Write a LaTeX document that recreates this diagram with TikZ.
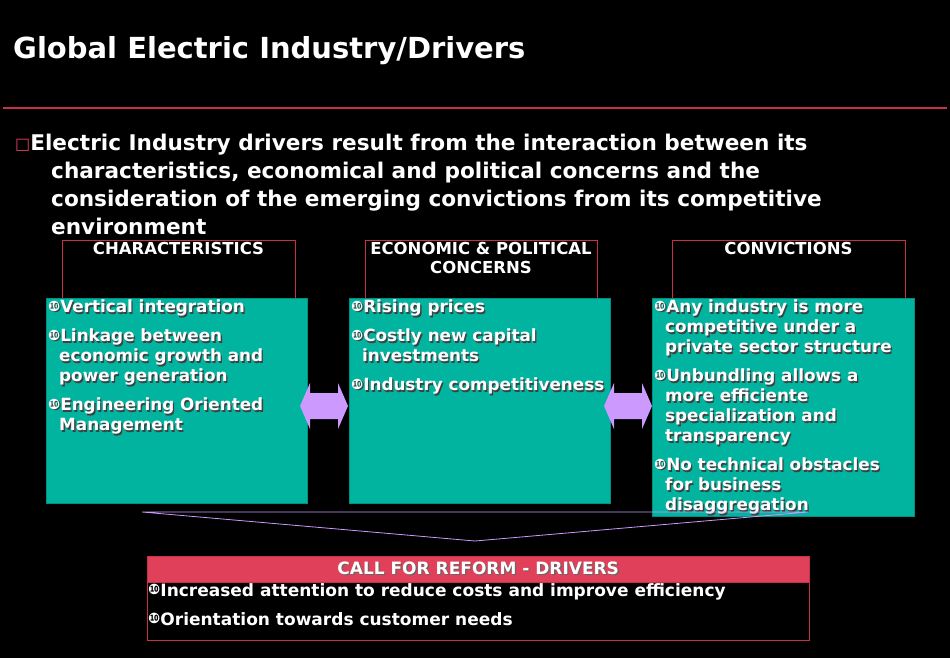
\documentclass[tikz,border=0pt]{standalone}
\usepackage{fontspec}
\setmainfont{DejaVu Sans}
\usetikzlibrary{calc}
\definecolor{teal}{HTML}{00B4A0}
\definecolor{crim}{HTML}{C8304A}
\definecolor{band}{HTML}{E0405A}
\definecolor{lav}{HTML}{CC99FF}
\newcommand{\bl}{\raisebox{0.08em}{\scalebox{0.85}{❿}}}
\newcommand{\ind}{\hspace*{11pt}}
\begin{document}
\begin{tikzpicture}[x=1pt,y=-1pt,
  every node/.style={font=\bfseries, text=white},
  tbox/.style={fill=teal, draw=teal!80!black},
  hbox/.style={draw=crim, line width=0.8pt},
  body/.style={anchor=north west, inner sep=0pt, align=left, font=\bfseries\fontsize{16.8}{20}\selectfont},
  hd/.style={anchor=north, inner sep=0pt, align=center, font=\bfseries\fontsize{16.5}{19}\selectfont}]
\fill[black] (0,0) rectangle (950,658);
\useasboundingbox (0,0) rectangle (950,658);
\node[anchor=west, inner sep=0pt, font=\bfseries\fontsize{29}{34}\selectfont] (title) at (13,51) {Global Electric Industry/Drivers};
\draw[crim, line width=1.2pt] (3,108) -- (947,108);
\node[anchor=north west, inner sep=0pt, align=left, font=\bfseries\fontsize{21.6}{28}\selectfont] (intro) at (15,134)
 {{\color{band}\fontsize{16}{16}\selectfont\raisebox{0.1em}{□}}Electric Industry drivers result from the interaction between its\\
 \hspace*{36pt}characteristics, economical and political concerns and the\\
 \hspace*{36pt}consideration of the emerging convictions from its competitive\\
 \hspace*{36pt}environment};
% header boxes
\draw[hbox] (62,240) rectangle (295,300);
\draw[hbox] (365,240) rectangle (597,300);
\draw[hbox] (672,240) rectangle (905,300);
\node[hd] (h1) at (178.5,242) {CHARACTERISTICS};
\node[hd] (h2) at (481,242) {ECONOMIC \& POLITICAL\\CONCERNS};
\node[hd] (h3) at (788.5,242) {CONVICTIONS};
% teal boxes
\node[tbox, minimum width=261pt, minimum height=205pt, anchor=north west, inner sep=0pt] (b1) at (46,298) {};
\node[tbox, minimum width=261pt, minimum height=205pt, anchor=north west, inner sep=0pt] (b2) at (349,298) {};
\node[tbox, minimum width=262pt, minimum height=218pt, anchor=north west, inner sep=0pt] (b3) at (652,298) {};
\foreach \sx/\sy/\c in {1.3/1.3/black!75, 0/0/white}{
\node[body, text=\c] at ($(b1.north west)+(2+\sx,2+\sy)$) {%
\bl Vertical integration\\[9pt]\bl Linkage between\\\ind economic growth and\\\ind power generation\\[9pt]\bl Engineering Oriented\\\ind Management};
\node[body, text=\c] at ($(b2.north west)+(2+\sx,2+\sy)$) {%
\bl Rising prices\\[9pt]\bl Costly new capital\\\ind investments\\[9pt]\bl Industry competitiveness};
\node[body, text=\c] at ($(b3.north west)+(2+\sx,2+\sy)$) {%
\bl Any industry is more\\\ind competitive under a\\\ind private sector structure\\[9pt]\bl Unbundling allows a\\\ind more efficiente\\\ind specialization and\\\ind transparency\\[9pt]\bl No technical obstacles\\\ind for business\\\ind disaggregation};
}
% arrows
\foreach \n/\xa in {a1/300,a2/604}{
\coordinate (\n) at (\xa+24,406);
\fill[lav] ($(\n)+(-24,0)$) -- ++(10,-23) -- ++(0,10) -- ++(28,0) -- ++(0,-10) -- ($(\n)+(24,0)$)
  -- ++(-10,23) -- ++(0,-10) -- ++(-28,0) -- ++(0,10) -- cycle;
}
% funnel
\coordinate (f1) at (142,512); \coordinate (f2) at (808,512); \coordinate (f3) at (475,541);
\draw[lav, line width=0.8pt] (f1) -- (f2) -- (f3) -- cycle;
% bottom box
\node[fill=band, draw=crim, minimum width=662pt, minimum height=26pt, anchor=north west, inner sep=0pt] (band) at (147,556) {};
\draw[crim, line width=0.8pt] (147,556) rectangle (809,640);
\node[font=\bfseries\fontsize{17}{20}\selectfont, text=black!60, inner sep=0pt] at ($(band)+(1.3,0.3)$) {CALL FOR REFORM - DRIVERS};
\node[font=\bfseries\fontsize{17}{20}\selectfont, inner sep=0pt] (bt) at ($(band)+(0,-1)$) {CALL FOR REFORM - DRIVERS};
\node[body, font=\bfseries\fontsize{17}{29}\selectfont] (bl) at (148,583) {\bl Increased attention to reduce costs and improve efficiency\\\bl Orientation towards customer needs};
\end{tikzpicture}
\end{document}
